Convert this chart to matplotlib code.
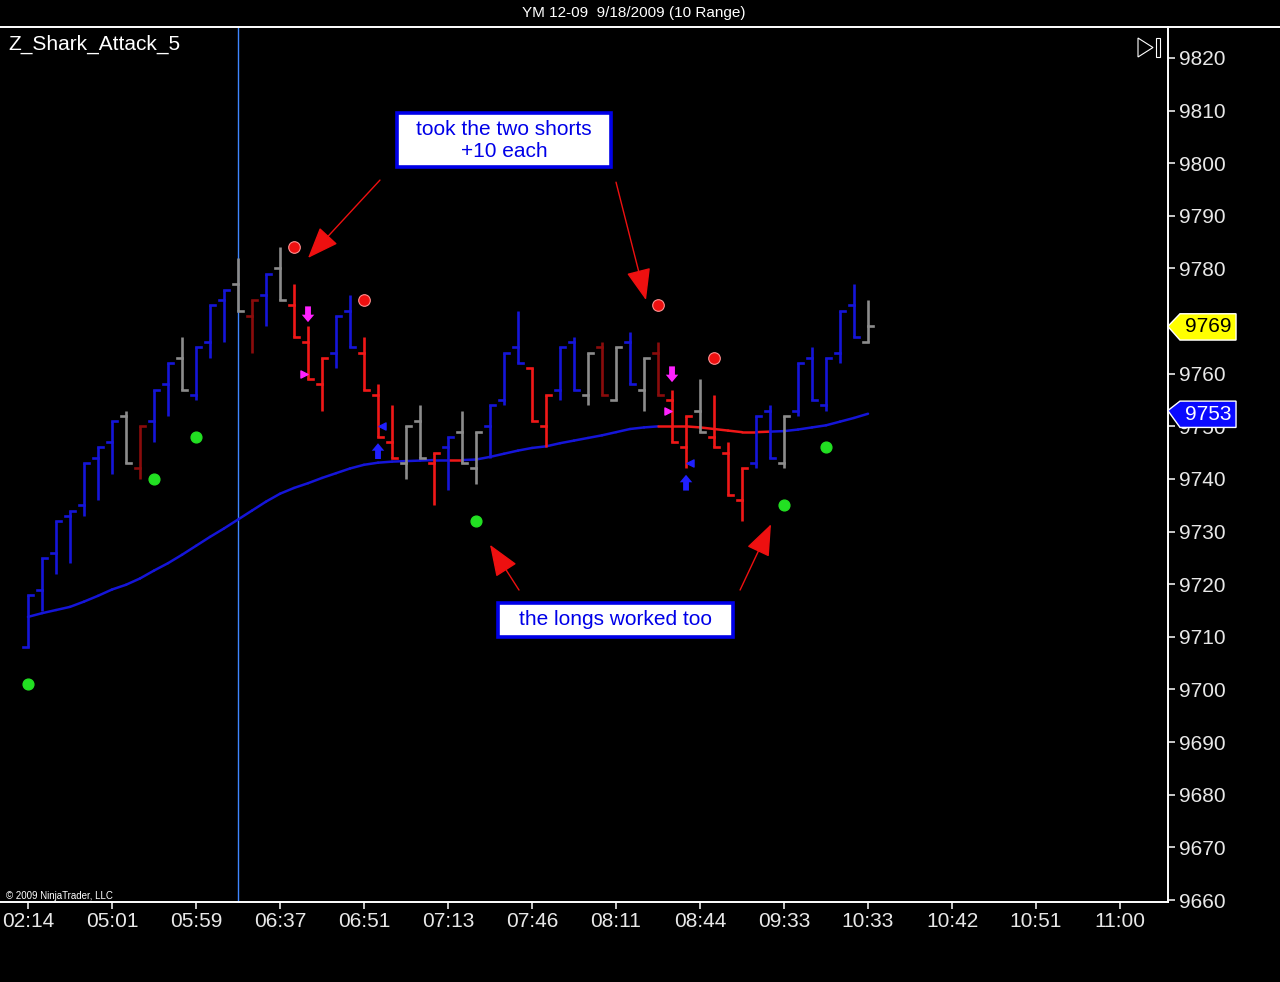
import numpy as np
import matplotlib
matplotlib.use("Agg")
import matplotlib.pyplot as plt
from matplotlib.patches import Polygon, Rectangle
from matplotlib.lines import Line2D

plt.rcParams['font.family'] = ['Liberation Sans', 'DejaVu Sans']

# range bars (10 range), one per index
opens = [9708, 9719, 9726, 9733, 9735, 9744, 9747, 9752, 9742, 9751,
         9758, 9763, 9756, 9766, 9774, 9777, 9771, 9775, 9780, 9773,
         9766, 9758, 9764, 9772, 9764, 9756, 9747, 9743, 9751, 9743,
         9746, 9749, 9742, 9750, 9755, 9765, 9761, 9750, 9757, 9766,
         9756, 9765, 9755, 9766, 9757, 9764, 9755, 9746, 9753, 9748,
         9745, 9736, 9743, 9753, 9743, 9753, 9763, 9754, 9764, 9773, 9766]
highs = [9718, 9725, 9732, 9734, 9743, 9746, 9751, 9753, 9750, 9757,
         9762, 9767, 9765, 9773, 9776, 9782, 9774, 9779, 9784, 9777,
         9769, 9763, 9771, 9775, 9767, 9758, 9754, 9750, 9754, 9745,
         9748, 9753, 9749, 9754, 9764, 9772, 9761, 9756, 9765, 9767,
         9764, 9766, 9765, 9768, 9763, 9766, 9757, 9752, 9759, 9756,
         9747, 9742, 9752, 9754, 9752, 9762, 9765, 9763, 9772, 9777, 9774]
lows = [9708, 9715, 9722, 9724, 9733, 9736, 9741, 9743, 9740, 9747,
        9752, 9757, 9755, 9763, 9766, 9772, 9764, 9769, 9774, 9767,
        9759, 9753, 9761, 9765, 9757, 9748, 9744, 9740, 9744, 9735,
        9738, 9743, 9739, 9744, 9754, 9762, 9751, 9746, 9755, 9757,
        9754, 9756, 9755, 9758, 9753, 9756, 9747, 9742, 9749, 9746,
        9737, 9732, 9742, 9744, 9742, 9752, 9755, 9753, 9762, 9767, 9766]
closes = [9718, 9725, 9732, 9734, 9743, 9746, 9751, 9743, 9750, 9757,
          9762, 9757, 9765, 9773, 9776, 9772, 9774, 9779, 9774, 9767,
          9759, 9763, 9771, 9765, 9757, 9748, 9744, 9750, 9744, 9745,
          9748, 9743, 9749, 9754, 9764, 9762, 9751, 9756, 9765, 9757,
          9764, 9756, 9765, 9758, 9763, 9756, 9747, 9752, 9749, 9746,
          9737, 9742, 9752, 9744, 9752, 9762, 9755, 9763, 9772, 9767, 9769]
bar_kind = "bbbbbbbgdbbgbbbgdbgrrrbbrrrggrbggbbbrrbbgdgbgdrrgrrrbbgbbbbbg"

ma = [9713.8, 9714.5, 9715.1, 9715.7, 9716.7, 9717.8, 9719.0, 9719.9, 9721.1, 9722.6,
      9724.0, 9725.6, 9727.3, 9729.0, 9730.6, 9732.3, 9734.0, 9735.7, 9737.2, 9738.3,
      9739.2, 9740.2, 9741.1, 9742.0, 9742.7, 9743.1, 9743.3, 9743.4, 9743.5, 9743.6,
      9743.6, 9743.6, 9743.7, 9744.2, 9744.8, 9745.4, 9745.9, 9746.2, 9746.8, 9747.3,
      9747.8, 9748.3, 9748.9, 9749.5, 9749.8, 9750.0, 9750.0, 9750.0, 9749.8, 9749.5,
      9749.2, 9748.9, 9748.9, 9749.0, 9749.1, 9749.4, 9749.8, 9750.2, 9750.9, 9751.6, 9752.4]
ma_red_segments = [30, 45, 46, 47, 48, 49, 50, 51, 52]

green_dot_bars = [0, 9, 12, 32, 54, 57]
green_dot_prices = [9701, 9740, 9748, 9732, 9735, 9746]
red_dot_bars = [19, 24, 45, 49]
red_dot_prices = [9784, 9774, 9773, 9763]

short_bars = [20, 46]          # magenta arrows
short_arrow_top = [9772.8, 9761.4]
short_tri = [9760, 9753]
long_bars = [25, 47]           # blue arrows
long_arrow_bottom = [9743.8, 9737.8]
long_tri = [9750, 9743]

time_labels = ['02:14', '05:01', '05:59', '06:37', '06:51', '07:13', '07:46',
               '08:11', '08:44', '09:33', '10:33', '10:42', '10:51', '11:00']
last_price = 9769
last_ma = 9753

colors = {'b': '#1515d8', 'r': '#f01818', 'd': '#8a0c0c', 'g': '#8c8c8c'}
W, H = 1280, 982

fig = plt.figure(figsize=(W / 100, H / 100), dpi=100, facecolor='black')
ax = fig.add_axes([0, 80 / H, 1167.5 / W, 875 / H], facecolor='black')
ax.set_xlim(-2, 81.39)
ax.set_ylim(9659.62, 9825.89)

# MA line
for i in range(len(ma) - 1):
    c = '#f01818' if i in ma_red_segments else '#1515d8'
    ax.plot([i, i + 1], [ma[i], ma[i + 1]], color=c, lw=1.8, solid_capstyle='round', zorder=2)

# bars
tk = 0.36
for i in range(len(opens)):
    c = colors[bar_kind[i]]
    ax.plot([i, i], [lows[i], highs[i]], color=c, lw=1.9, zorder=3, solid_capstyle='butt')
    ax.plot([i - tk, i], [opens[i], opens[i]], color=c, lw=1.9, zorder=3)
    ax.plot([i, i + tk], [closes[i], closes[i]], color=c, lw=1.9, zorder=3)

ax.axvline(15, color='#3f86ff', lw=1, zorder=1)

ax.scatter(green_dot_bars, green_dot_prices, s=60, color='#22e022', zorder=4)
ax.scatter(red_dot_bars, red_dot_prices, s=70, color='#ee1010', edgecolor='#ff9090',
           linewidth=0.8, zorder=4)

astyle = 'simple,head_width=0.75,head_length=0.45,tail_width=0.35'
for b, top, tri in zip(short_bars, short_arrow_top, short_tri):
    ax.annotate('', xy=(b, top - 3.0), xytext=(b, top),
                arrowprops=dict(arrowstyle=astyle, color='#ff22ff', lw=0,
                                shrinkA=0, shrinkB=0, mutation_scale=12), zorder=5)
    ax.scatter([b - 0.3], [tri], marker='>', s=26, color='#ff22ff', zorder=5)
for b, bot, tri in zip(long_bars, long_arrow_bottom, long_tri):
    ax.annotate('', xy=(b, bot + 3.0), xytext=(b, bot),
                arrowprops=dict(arrowstyle=astyle, color='#2020ff', lw=0,
                                shrinkA=0, shrinkB=0, mutation_scale=12), zorder=5)
    ax.scatter([b + 0.3], [tri], marker='<', s=26, color='#2020ff', zorder=5)

# annotations
ax.add_patch(Rectangle((26.36, 9799.3), 15.28, 10.25, facecolor='white',
                       edgecolor='#0000e8', lw=2.6, zorder=6))
ax.text(34.0, 9804.4, 'took the two shorts\n+10 each', color='#0000e8', fontsize=15,
        ha='center', va='center', linespacing=1.2, zorder=7)
ax.add_patch(Rectangle((33.57, 9710.0), 16.79, 6.45, facecolor='white',
                       edgecolor='#0000e8', lw=2.6, zorder=6))
ax.text(41.96, 9713.3, 'the longs worked too', color='#0000e8', fontsize=15,
        ha='center', va='center', zorder=7)

arrow = dict(arrowstyle='-|>,head_width=0.35,head_length=0.9', color='#ee1010', lw=1,
             mutation_scale=22, shrinkA=0, shrinkB=0)
ax.annotate('', xy=(20.0, 9782.0), xytext=(25.14, 9796.8), arrowprops=arrow, zorder=6)
ax.annotate('', xy=(44.14, 9774.0), xytext=(42.0, 9796.4), arrowprops=arrow, zorder=6)
ax.annotate('', xy=(33.0, 9727.5), xytext=(35.07, 9718.9), arrowprops=arrow, zorder=6)
ax.annotate('', xy=(53.07, 9731.4), xytext=(50.86, 9718.9), arrowprops=arrow, zorder=6)

# axes styling
ax.yaxis.tick_right()
yt = [v for v in range(9660, 9821, 10) if v != 9770]   # 9770 sits under the price tag
ax.set_yticks(yt)
ax.set_xticks(np.arange(0, 6 * len(time_labels), 6))
ax.set_xticklabels(time_labels)
ax.tick_params(colors='#e8e8e8', labelsize=15, length=5, width=1.2)
ax.tick_params(axis='y', pad=3)
ax.tick_params(axis='x', pad=2)
for s in ['left', 'top']:
    ax.spines[s].set_visible(False)
for s in ['right', 'bottom']:
    ax.spines[s].set_color('white')
    ax.spines[s].set_linewidth(1.4)

# price markers on the axis
yx = ax.get_yaxis_transform()
def price_tag(price, face, txt_color, top, bot):
    pts = [(1.0003, price), (1.0107, top), (1.0587, top), (1.0587, bot), (1.0107, bot)]
    ax.add_patch(Polygon(pts, closed=True, facecolor=face, edgecolor='white', lw=1,
                         transform=yx, clip_on=False, zorder=8))
    ax.text(1.0347, (top + bot) / 2, str(price), color=txt_color, fontsize=15,
            ha='center', va='center', transform=yx, clip_on=False, zorder=9)

price_tag(last_price, '#ffff00', 'black', 9771.4, 9766.4)
price_tag(last_ma, '#0a0aff', 'white', 9754.8, 9749.8)

# header and overlay texts
fig.add_artist(Line2D([0, 1], [1 - 27 / H] * 2, color='white', lw=1.4))
fig.text(634 / W, 1 - 13 / H, 'YM 12-09  9/18/2009 (10 Range)', color='white',
         fontsize=11, ha='center', va='center')
fig.text(8 / W, 1 - 44 / H, 'Z_Shark_Attack_5', color='white', fontsize=15,
         ha='left', va='center')
fig.text(6 / W, 1 - 896 / H, '\u00a9 2009 NinjaTrader, LLC', color='white',
         fontsize=7, ha='left', va='center')

def fp(x, y):
    return (x / W, 1 - y / H)

fig.add_artist(Polygon([fp(1138, 38), fp(1153, 47.5), fp(1138, 57)], closed=True,
                       fill=False, edgecolor='white', lw=0.8, transform=fig.transFigure))
fig.add_artist(Rectangle(fp(1156, 57), 4 / W, 19 / H, fill=False, edgecolor='white',
                         lw=0.8, transform=fig.transFigure))

fig.savefig('out.png', dpi=100, facecolor='black')
